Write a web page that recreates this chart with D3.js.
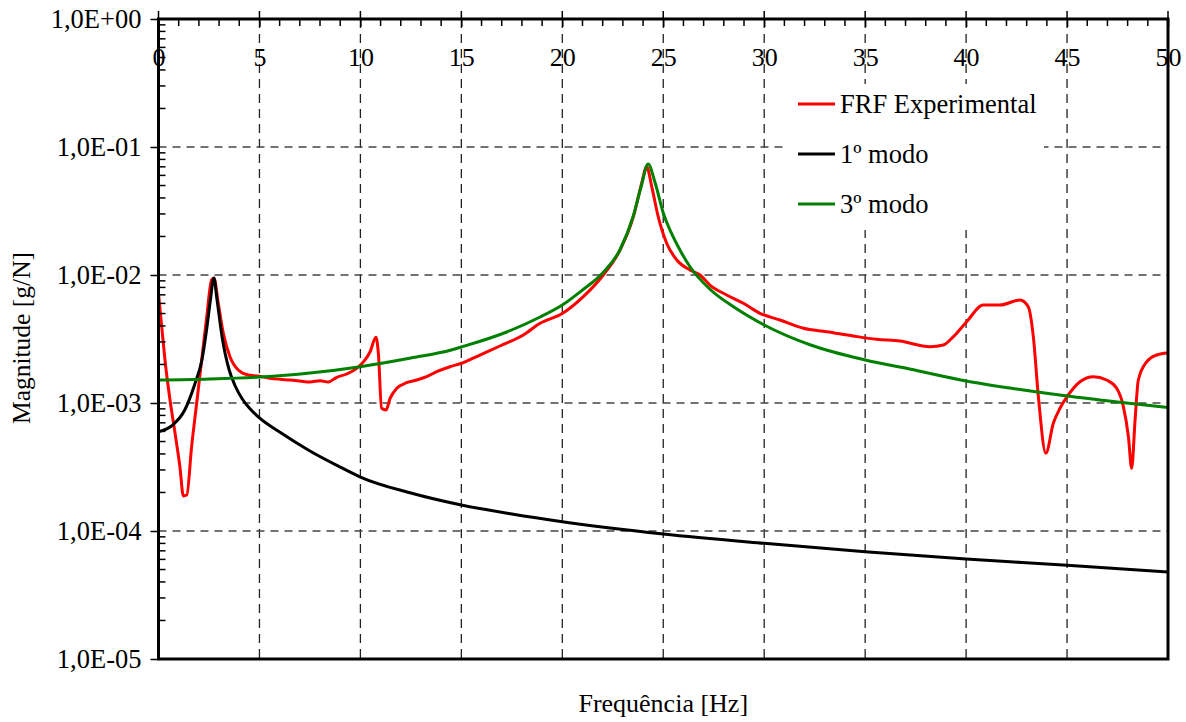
<!DOCTYPE html>
<html>
<head>
<meta charset="utf-8">
<script src="https://cdn.jsdelivr.net/npm/d3@7/dist/d3.min.js"></script>
<style>
  html, body { margin: 0; padding: 0; background: #fff; }
  svg { display: block; }
  text { font-family: 'Liberation Serif', 'Times New Roman', serif; fill: #000; }
</style>
</head>
<body>
<svg id="chart" width="1186" height="722"></svg>
<script>
// ---------- DATA (frequency in Hz, magnitude in g/N) ----------
const seriesNames = ["FRF Experimental", "1º modo", "3º modo"];

const frfFreq = [0, 0.16, 0.32, 0.57, 0.82, 1.06, 1.23, 1.4, 1.64, 1.89, 2.14, 2.39, 2.63, 2.75, 2.96, 3.21, 3.54, 3.95, 4.45, 4.94, 5.52, 6.02, 6.51, 7.0, 7.5, 8.0, 8.41, 8.83, 9.32, 9.82, 10.23, 10.48, 10.77, 10.89, 11.05, 11.27, 11.47, 11.8, 12.29, 12.79, 13.28, 13.78, 14.44, 15.02, 15.92, 16.91, 18.07, 18.9, 20.02, 21.04, 22.03, 22.86, 23.52, 23.93, 24.18, 24.43, 24.75, 25.17, 25.67, 26.32, 26.82, 27.31, 28.14, 28.97, 29.79, 30.78, 31.94, 33.1, 34.41, 35.57, 36.72, 38.21, 38.87, 39.37, 40.03, 40.85, 41.68, 42.67, 43.08, 43.33, 43.58, 43.95, 44.32, 44.65, 45.06, 45.64, 46.3, 46.96, 47.46, 47.79, 48.04, 48.2, 48.37, 48.53, 48.95, 49.44, 50];
const frfMag = [7.19e-3, 3.95e-3, 2.17e-3, 1.055e-3, 5.80e-4, 3.18e-4, 1.88e-4, 1.91e-4, 4.56e-4, 9.95e-4, 2.17e-3, 4.72e-3, 9.14e-3, 9.42e-3, 6.01e-3, 3.50e-3, 2.30e-3, 1.81e-3, 1.654e-3, 1.625e-3, 1.56e-3, 1.532e-3, 1.512e-3, 1.486e-3, 1.459e-3, 1.494e-3, 1.459e-3, 1.588e-3, 1.685e-3, 1.867e-3, 2.17e-3, 2.516e-3, 3.26e-3, 2.445e-3, 9.09e-4, 8.82e-4, 1.088e-3, 1.302e-3, 1.44e-3, 1.512e-3, 1.605e-3, 1.756e-3, 1.921e-3, 2.043e-3, 2.371e-3, 2.788e-3, 3.40e-3, 4.195e-3, 5.02e-3, 6.77e-3, 1.0e-2, 1.568e-2, 2.855e-2, 5.20e-2, 7.02e-2, 4.90e-2, 2.855e-2, 1.769e-2, 1.31e-2, 1.094e-2, 1.0e-2, 8.35e-3, 6.98e-3, 6.01e-3, 5.02e-3, 4.45e-3, 3.834e-3, 3.606e-3, 3.337e-3, 3.146e-3, 3.051e-3, 2.753e-3, 2.839e-3, 3.296e-3, 4.317e-3, 5.83e-3, 5.83e-3, 6.38e-3, 5.65e-3, 3.296e-3, 1.12e-3, 4.05e-4, 6.94e-4, 9.09e-4, 1.155e-3, 1.467e-3, 1.605e-3, 1.512e-3, 1.302e-3, 9.36e-4, 5.45e-4, 3.09e-4, 7.37e-4, 1.512e-3, 2.102e-3, 2.371e-3, 2.472e-3];

const mode1Freq = [0, 0.7, 1.3, 1.8, 2.15, 2.4, 2.57, 2.74, 2.9, 3.15, 3.5, 3.8, 4.15, 4.5, 5, 6, 7.5, 9, 10, 12.5, 15, 17.5, 20, 25, 30, 35, 40, 45, 50];
const mode1Mag = [5.97e-4, 6.73e-4, 8.82e-4, 1.407e-3, 2.168e-3, 3.925e-3, 6.38e-3, 9.48e-3, 6.38e-3, 3.28e-3, 1.81e-3, 1.358e-3, 1.075e-3, 9.14e-4, 7.64e-4, 5.93e-4, 4.22e-4, 3.16e-4, 2.64e-4, 1.98e-4, 1.596e-4, 1.358e-4, 1.182e-4, 9.48e-5, 8.01e-5, 6.89e-5, 6.04e-5, 5.40e-5, 4.78e-5];

const mode3Freq = [0, 2.5, 5, 7.5, 10, 12.5, 14.5, 15, 17.25, 18.9, 20, 21, 22, 22.85, 23.5, 23.9, 24.25, 24.6, 25, 25.4, 25.8, 26.3, 27.3, 28.5, 30, 32.3, 35, 37.2, 40, 42.5, 45, 47.5, 50];
const mode3Mag = [1.512e-3, 1.54e-3, 1.596e-3, 1.715e-3, 1.921e-3, 2.247e-3, 2.595e-3, 2.738e-3, 3.587e-3, 4.70e-3, 5.83e-3, 7.64e-3, 1.037e-2, 1.568e-2, 2.839e-2, 4.87e-2, 7.37e-2, 5.23e-2, 3.05e-2, 2.13e-2, 1.596e-2, 1.176e-2, 7.77e-3, 5.62e-3, 4.07e-3, 2.839e-3, 2.168e-3, 1.844e-3, 1.486e-3, 1.286e-3, 1.134e-3, 1.018e-3, 9.22e-4];

const xTickValues = [0, 5, 10, 15, 20, 25, 30, 35, 40, 45, 50];
const yTickValues = [1e-5, 1e-4, 1e-3, 1e-2, 1e-1, 1];
const yTickLabels = ["1,0E-05", "1,0E-04", "1,0E-03", "1,0E-02", "1,0E-01", "1,0E+00"];
const xTitle = "Frequência [Hz]";
const yTitle = "Magnitude [g/N]";

// ---------- LAYOUT ----------
const L = 158.5, R = 1168, T = 19, B = 659;
const FONT = "'Liberation Serif', 'Times New Roman', serif";
const colors = { frf: "#ff0000", m1: "#000000", m3: "#008000" };

const svg = d3.select("#chart");
const x = d3.scaleLinear().domain([0, 50]).range([L, R]);
const y = d3.scaleLog().domain([1e-5, 1]).range([B, T]);

// gridlines
const grid = svg.append("g");
grid.selectAll("line.vg").data(xTickValues.filter(v => v > 0 && v < 50)).join("line")
  .attr("x1", d => x(d)).attr("x2", d => x(d)).attr("y1", T).attr("y2", B)
  .attr("stroke", "#222").attr("stroke-width", 1.3).attr("stroke-dasharray", "9,6");
grid.selectAll("line.hg").data(yTickValues.filter(v => v > 1e-5 && v < 1)).join("line")
  .attr("x1", L).attr("x2", R).attr("y1", d => y(d)).attr("y2", d => y(d))
  .attr("stroke", "#444").attr("stroke-width", 1.3).attr("stroke-dasharray", "8,6");

// curves
const line = (fx, my) => d3.line().x((d, i) => x(fx[i])).y((d, i) => y(my[i])).curve(d3.curveMonotoneX)(fx);
const plot = svg.append("g");
plot.append("path").attr("d", line(frfFreq, frfMag)).attr("fill", "none").attr("stroke", colors.frf).attr("stroke-width", 3).attr("stroke-linejoin", "round");
plot.append("path").attr("d", line(mode1Freq, mode1Mag)).attr("fill", "none").attr("stroke", colors.m1).attr("stroke-width", 3).attr("stroke-linejoin", "round");
plot.append("path").attr("d", line(mode3Freq, mode3Mag)).attr("fill", "none").attr("stroke", colors.m3).attr("stroke-width", 3).attr("stroke-linejoin", "round");

// minor ticks
const minorX = d3.range(0, 51, 1).filter(v => v % 5 !== 0);
svg.append("g").selectAll("line").data(minorX).join("line")
  .attr("x1", d => x(d)).attr("x2", d => x(d)).attr("y1", T).attr("y2", T + 7)
  .attr("stroke", "#000").attr("stroke-width", 1.5);
const minorY = [];
for (let e = -5; e < 0; e++) for (let m = 2; m <= 9; m++) minorY.push(m * Math.pow(10, e));
svg.append("g").selectAll("line").data(minorY).join("line")
  .attr("x1", L).attr("x2", L + 7).attr("y1", d => y(d)).attr("y2", d => y(d))
  .attr("stroke", "#000").attr("stroke-width", 1.5);

// major x ticks extend above the top axis
svg.append("g").selectAll("line").data(xTickValues).join("line")
  .attr("x1", d => x(d)).attr("x2", d => x(d)).attr("y1", T - 8).attr("y2", T)
  .attr("stroke", "#000").attr("stroke-width", 1.5);

// x axis (labels under the top border)
const xAxis = svg.append("g").attr("transform", `translate(0,${T})`)
  .call(d3.axisBottom(x).tickValues(xTickValues).tickSize(8).tickPadding(21).tickFormat(d3.format("d")))
  .attr("font-family", FONT).attr("font-size", 26);
xAxis.select(".domain").remove();
xAxis.selectAll("line").attr("stroke-width", 1.5);

// y axis
const yAxis = svg.append("g").attr("transform", `translate(${L},0)`)
  .call(d3.axisLeft(y).tickValues(yTickValues).tickSize(8).tickPadding(9).tickFormat((d, i) => yTickLabels[i]))
  .attr("font-family", FONT).attr("font-size", 26.5);
yAxis.select(".domain").remove();
yAxis.selectAll("line").attr("stroke-width", 1.5);

// frame
svg.append("rect").attr("x", L).attr("y", T).attr("width", R - L).attr("height", B - T)
  .attr("fill", "none").attr("stroke", "#000").attr("stroke-width", 3);

// legend
const lg = svg.append("g");
lg.append("rect").attr("x", 788).attr("y", 84).attr("width", 256).attr("height", 146).attr("fill", "#fff");
const legendItems = [
  { name: seriesNames[0], color: colors.frf },
  { name: seriesNames[1], color: colors.m1 },
  { name: seriesNames[2], color: colors.m3 }
];
const li = lg.selectAll("g.item").data(legendItems).join("g")
  .attr("transform", (d, i) => `translate(798,${104 + i * 50})`);
li.append("line").attr("x1", 0).attr("x2", 37).attr("y1", 0).attr("y2", 0)
  .attr("stroke", d => d.color).attr("stroke-width", 3);
li.append("text").attr("x", 42).attr("y", 9).style("font-size", "26.5px").text(d => d.name);

// titles
svg.append("text").attr("x", (L + R) / 2).attr("y", 712).attr("text-anchor", "middle")
  .style("font-size", "26px").text(xTitle);
svg.append("text").attr("transform", "translate(30,338) rotate(-90)").attr("text-anchor", "middle")
  .style("font-size", "25.5px").text(yTitle);
</script>
</body>
</html>
